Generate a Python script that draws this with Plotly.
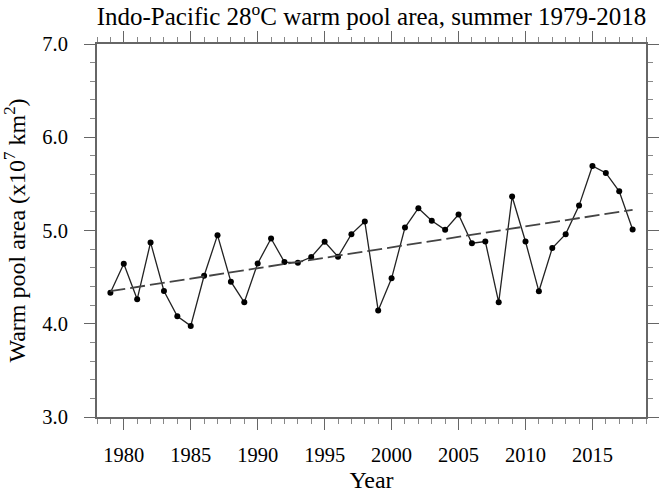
import numpy as np
import plotly.graph_objects as go

# Summer (JJAS) Indo-Pacific 28°C warm pool area, units of 10^7 km^2
years = list(range(1979, 2019))
area = [4.333, 4.644, 4.262, 4.872, 4.351, 4.080, 3.977, 4.515, 4.950, 4.451,
        4.230, 4.647, 4.914, 4.661, 4.654, 4.715, 4.879, 4.719, 4.961, 5.096,
        4.141, 4.487, 5.032, 5.239, 5.104, 5.007, 5.171, 4.864, 4.882, 4.230,
        5.364, 4.882, 4.348, 4.811, 4.961, 5.267, 5.692, 5.617, 5.420, 5.011]

x_ticks = [1980, 1985, 1990, 1995, 2000, 2005, 2010, 2015]
y_ticks = [3.0, 4.0, 5.0, 6.0, 7.0]
y_tick_labels = ["3.0", "4.0", "5.0", "6.0", "7.0"]

# Least-squares linear trend
slope, intercept = np.polyfit(years, area, 1)
trend_x = [years[0], years[-1]]
trend_y = [slope * x + intercept for x in trend_x]

FONT = "Liberation Serif, Times New Roman, serif"
AXIS_COLOR = "#666666"

fig = go.Figure()
fig.add_trace(go.Scatter(
    x=years, y=area, mode="lines+markers",
    line=dict(color="#222222", width=1.3),
    marker=dict(color="black", size=6),
    showlegend=False,
))
fig.add_trace(go.Scatter(
    x=trend_x, y=trend_y, mode="lines",
    line=dict(color="#444444", width=1.8, dash="15px,5px"),
    showlegend=False,
))

axis_common = dict(
    showline=True, linecolor=AXIS_COLOR, linewidth=2, mirror="allticks",
    ticks="outside", ticklen=11, tickwidth=1.3, tickcolor=AXIS_COLOR,
    showgrid=False, zeroline=False,
    tickfont=dict(family=FONT, size=20.5, color="black"),
)

fig.update_xaxes(
    range=[1978, 2019], tickvals=x_ticks, ticklabelstandoff=7,
    minor=dict(dtick=1, tick0=1978, ticks="outside", ticklen=5,
               tickwidth=1, tickcolor="#888888"),
    title=dict(text="Year", font=dict(family=FONT, size=24, color="black"),
               standoff=7),
    **axis_common,
)
fig.update_yaxes(
    range=[3.0, 7.0], tickvals=y_ticks, ticktext=y_tick_labels,
    ticklabelstandoff=12,
    minor=dict(dtick=0.2, tick0=3.0, ticks="outside", ticklen=5,
               tickwidth=1, tickcolor="#888888"),
    title=dict(text="Warm pool area (x10<sup>7</sup> km<sup>2</sup>)",
               font=dict(family=FONT, size=24, color="black"), standoff=12),
    **axis_common,
)

fig.update_layout(
    width=667, height=497,
    margin=dict(l=97, r=8, t=44, b=79),
    paper_bgcolor="white", plot_bgcolor="white",
    title=dict(text="Indo-Pacific 28<sup>o</sup>C warm pool area, summer 1979-2018",
               font=dict(family=FONT, size=25, color="black"),
               x=0.5, xref="paper", xanchor="center",
               y=0.984, yref="container", yanchor="top"),
)

fig.write_html("out.html")
